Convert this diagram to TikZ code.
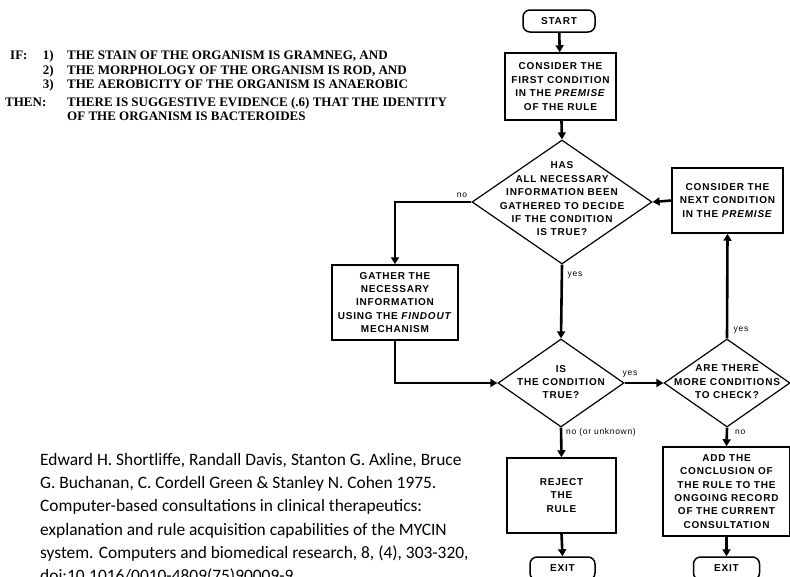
\documentclass[tikz,border=0pt]{standalone}
\usepackage{fontspec}
\setmainfont{Liberation Serif}
\newfontfamily\chartfont[LetterSpace=8]{Liberation Sans}
\newfontfamily\citefont{Carlito}
\usetikzlibrary{shapes.geometric,arrows.meta}

\begin{document}
\begin{tikzpicture}[x=1pt,y=-1pt,
  chart/.style={font=\chartfont\bfseries\fontsize{10}{13.4}\selectfont, align=center},
  box/.style={chart, draw, line width=1.5pt, inner sep=0pt},
  term/.style={chart, draw, line width=1.5pt, rounded corners=7pt, inner sep=0pt},
  dia/.style={draw, diamond, line width=1.2pt, inner sep=0pt, minimum width=126pt, minimum height=88pt},
  diatext/.style={chart, inner sep=0pt},
  flow/.style={line width=2.6pt, -{Triangle[length=7pt,width=8pt]}},
  tag/.style={font=\chartfont\fontsize{8.5}{9}\selectfont, inner sep=0pt},
  rule/.style={font=\bfseries\fontsize{13}{14.5}\selectfont, inner sep=0pt},
]
\useasboundingbox (0,0) rectangle (790,576);
\clip (0,0) rectangle (790,576);

% the production rule
\node[rule, anchor=base west] (ifkw) at (10,59.5) {IF:};
\node[rule, anchor=base east] (n1) at (54,59.5) {1)};
\node[rule, anchor=base east] (n2) at (54,74) {2)};
\node[rule, anchor=base east] (n3) at (54,88.5) {3)};
\node[rule, anchor=base west] (r1) at (67,59.5) {THE STAIN OF THE ORGANISM IS GRAMNEG, AND};
\node[rule, anchor=base west] (r2) at (67,74) {THE MORPHOLOGY OF THE ORGANISM IS ROD, AND};
\node[rule, anchor=base west] (r3) at (67,88.5) {THE AEROBICITY OF THE ORGANISM IS ANAEROBIC};
\node[rule, anchor=base west] (thenkw) at (5,106) {THEN:};
\node[rule, anchor=base west] (r4) at (67,106) {THERE IS SUGGESTIVE EVIDENCE (.6) THAT THE IDENTITY};
\node[rule, anchor=base west] (r5) at (67,120.5) {OF THE ORGANISM IS BACTEROIDES};

% flowchart nodes
\node[term, minimum width=72pt, minimum height=22pt] (start) at (559,21) {START};
\node[box, minimum width=111pt, minimum height=67pt] (first) at (560.5,86.5)
  {CONSIDER THE\\FIRST CONDITION\\IN THE \textit{PREMISE}\\OF THE RULE};
\node[dia, minimum width=180pt, minimum height=124pt] (d1) at (562,202) {};
\node[diatext] (d1t) at (562,199)
  {HAS\\ALL NECESSARY\\INFORMATION BEEN\\GATHERED TO DECIDE\\IF THE CONDITION\\IS TRUE?};
\node[box, minimum width=111pt, minimum height=65pt] (next) at (727.5,200.5)
  {CONSIDER THE\\NEXT CONDITION\\IN THE \textit{PREMISE}};
\node[box, minimum width=126pt, minimum height=75pt] (gather) at (395,302.5)
  {GATHER THE\\NECESSARY\\INFORMATION\\USING THE \textit{FINDOUT}\\MECHANISM};
\node[dia] (d2) at (561,383) {};
\node[diatext] (d2t) at (561,382) {IS\\THE CONDITION\\TRUE?};
\node[dia] (d3) at (727,383) {};
\node[diatext] (d3t) at (727,382) {ARE THERE\\MORE CONDITIONS\\TO CHECK?};
\node[box, minimum width=109pt, minimum height=75pt] (reject) at (561.5,495.5)
  {REJECT\\THE\\RULE};
\node[box, minimum width=127pt, minimum height=89pt] (add) at (726.5,491.5)
  {ADD THE\\CONCLUSION OF\\THE RULE TO THE\\ONGOING RECORD\\OF THE CURRENT\\CONSULTATION};
\node[term, minimum width=65pt, minimum height=23pt] (exit1) at (562.5,568.5) {EXIT};
\node[term, minimum width=66pt, minimum height=23pt] (exit2) at (726.5,568.5) {EXIT};

% connectors
\draw[flow] (start) -- (first);
\draw[flow] (first) -- (d1.north);
\draw[flow] (d1.west) -| (gather.north);
\draw[flow] (d1.south) -- (d2.north);
\draw[flow] (gather.south) |- (d2.west);
\draw[flow] (d2.east) -- (d3.west);
\draw[flow] (d3.north) -- (next.south);
\draw[flow] (next.west) -- (d1.east);
\draw[flow] (d2.south) -- (reject.north);
\draw[flow] (d3.south) -- (add.north);
\draw[flow] (reject.south) -- (exit1.north);
\draw[flow] (add.south) -- (exit2.north);

% branch labels
\node[tag] (lno1) at (462,195) {no};
\node[tag] (lyes1) at (575,275) {yes};
\node[tag] (lyes2) at (630,374) {yes};
\node[tag] (lyes3) at (741,330) {yes};
\node[tag, anchor=west] (lno2) at (566,432) {no (or unknown)};
\node[tag, anchor=west] (lno3) at (735,432) {no};

% reference
\node[font=\citefont\fontsize{17.4}{23.3}\selectfont, anchor=north west, align=left, inner sep=0pt] (cite) at (40,453)
  {Edward H. Shortliffe, Randall Davis, Stanton G. Axline, Bruce\\
   G. Buchanan, C. Cordell Green \& Stanley N. Cohen 1975.\\
   Computer-based consultations in clinical therapeutics:\\
   explanation and rule acquisition capabilities of the MYCIN\\
   system. Computers and biomedical research, 8, (4), 303-320,\\
   doi:10.1016/0010-4809(75)90009-9};
\end{tikzpicture}
\end{document}
